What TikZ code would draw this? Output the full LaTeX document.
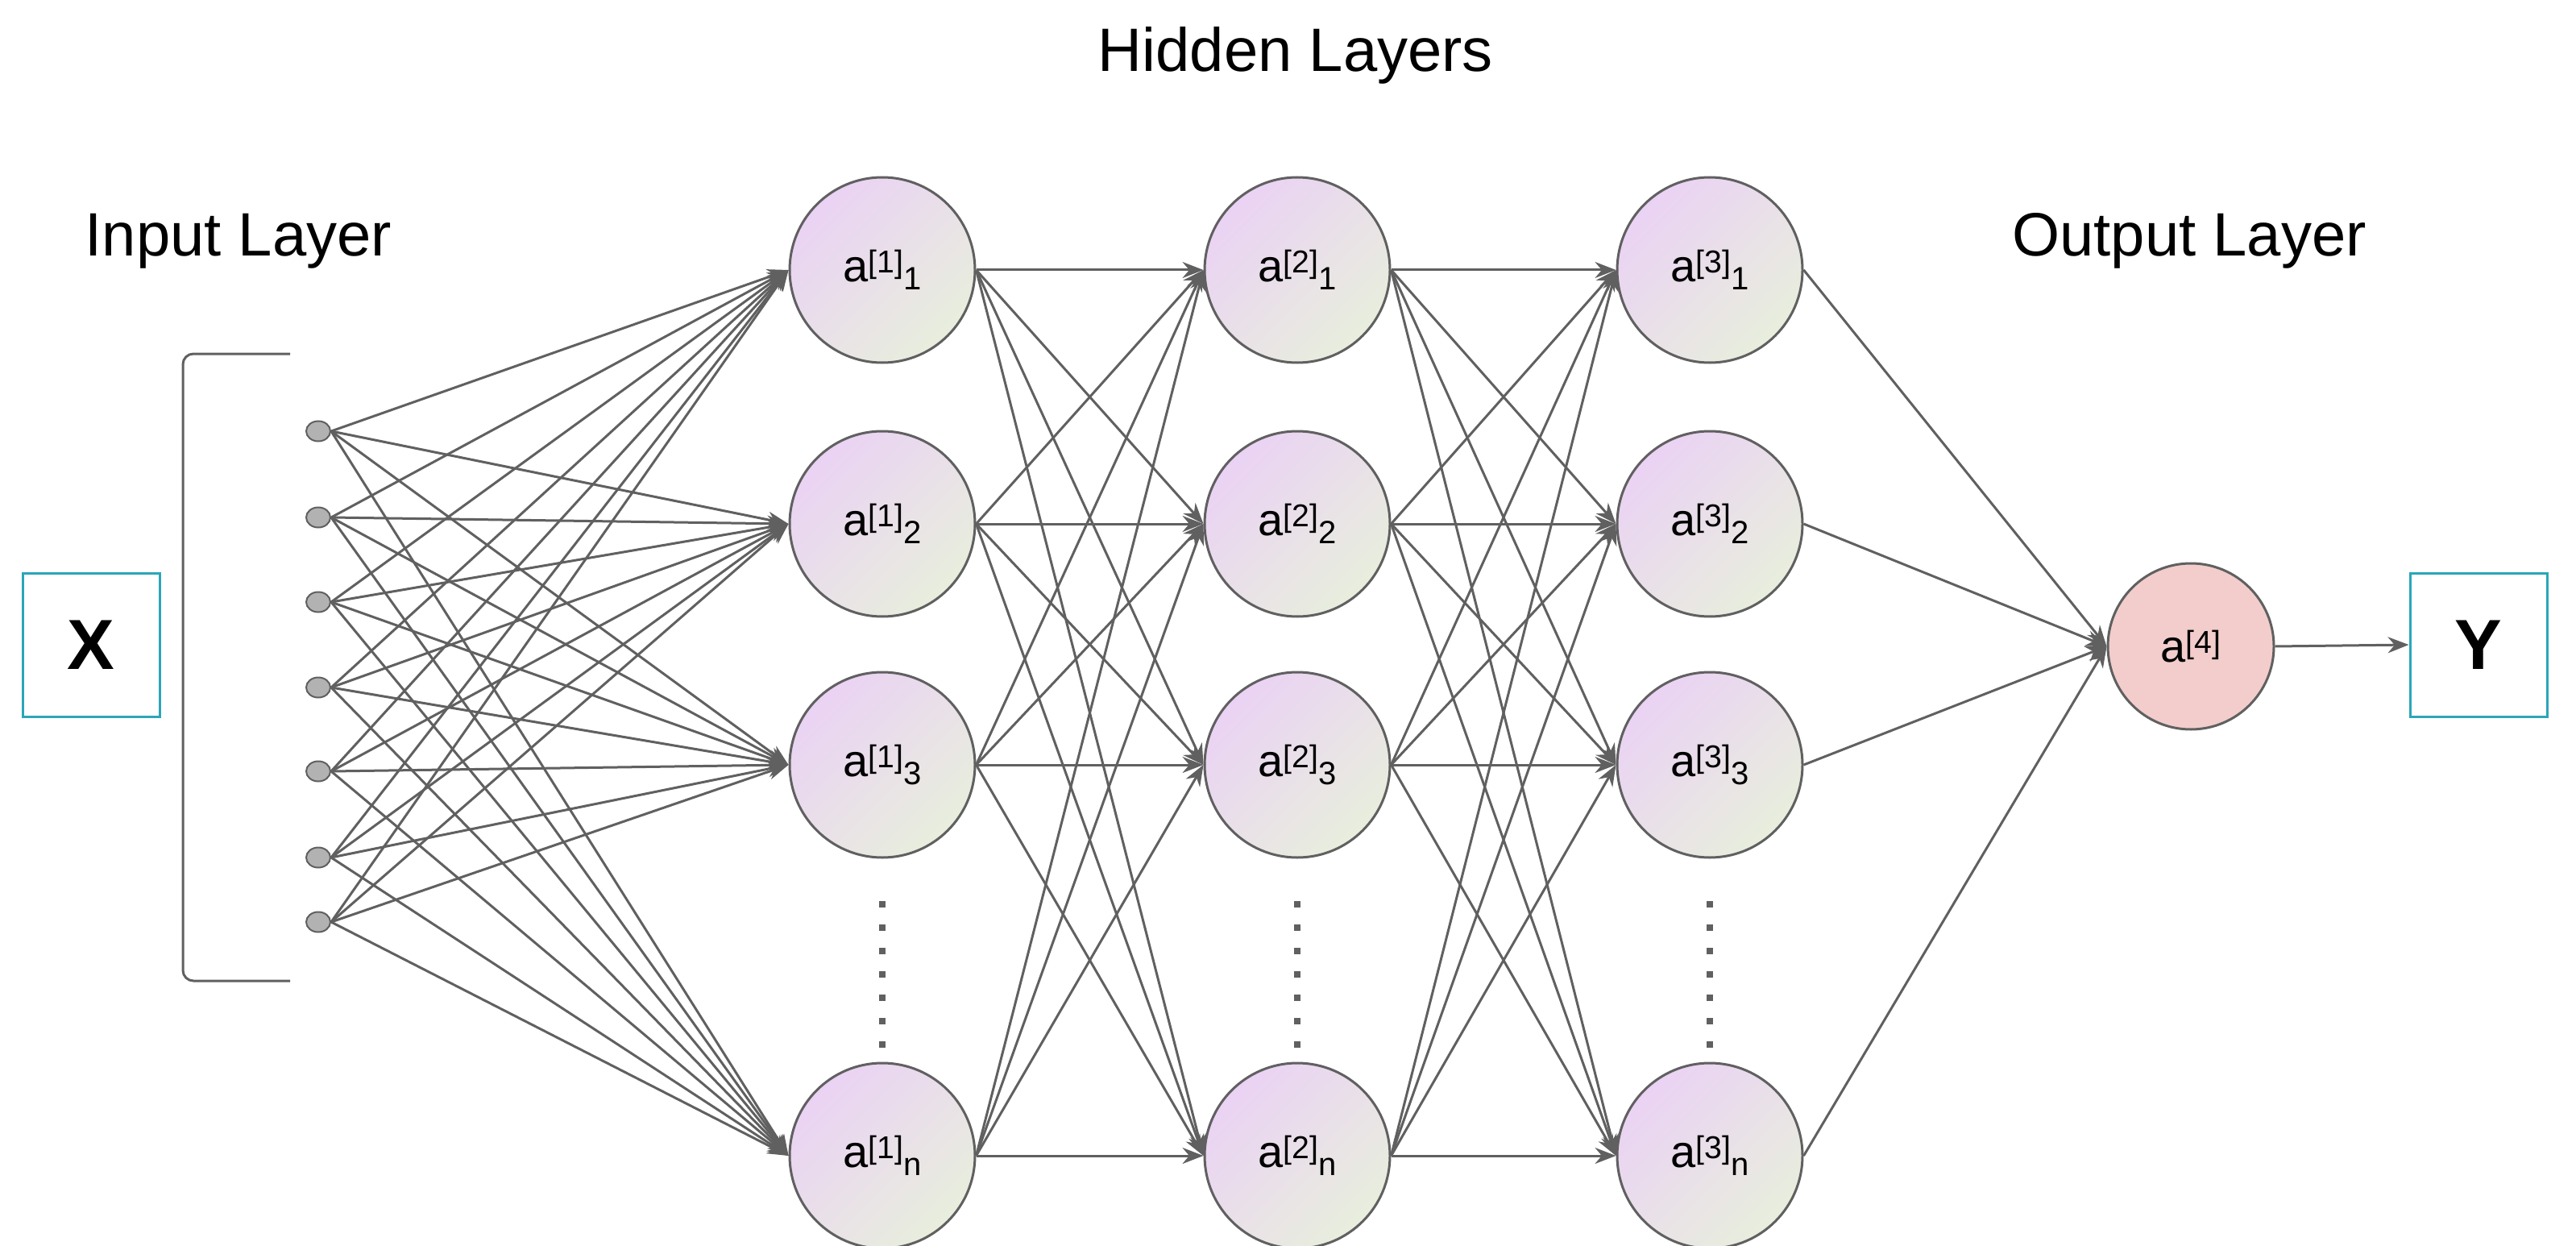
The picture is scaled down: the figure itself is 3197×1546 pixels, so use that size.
\documentclass[tikz,border=0pt]{standalone}
\usepackage{fontspec}
\setmainfont{Liberation Sans}
\usetikzlibrary{arrows.meta,shapes.geometric}
\definecolor{ln}{HTML}{606060}
\definecolor{purp}{HTML}{EAD2F4}
\definecolor{grn}{HTML}{E8EEDD}
\definecolor{outc}{HTML}{F2CDCC}
\definecolor{teal}{HTML}{2BA6B8}
\newcommand{\lab}[2]{a\textsuperscript{[#1]}\kern-1pt\raisebox{-10pt}{\fontsize{40}{48}\selectfont #2}}
\begin{document}
\begin{tikzpicture}[x=1pt,y=-1pt,
  neuron/.style={circle,draw=ln,line width=3pt,minimum size=230pt,inner sep=0pt,
    left color=purp,right color=grn,shading angle=45,font=\fontsize{56}{66}\selectfont},
  outn/.style={circle,draw=ln,line width=3pt,minimum size=206pt,inner sep=0pt,fill=outc,font=\fontsize{56}{66}\selectfont},
  inp/.style={ellipse,draw=ln,line width=2pt,fill=black!30,minimum width=30pt,minimum height=25pt,inner sep=0pt},
  conn/.style={draw=ln,line width=3pt,-{Stealth[length=26pt,width=20pt]}},
  box/.style={draw=teal,line width=3pt,minimum width=170pt,minimum height=178pt,font=\fontsize{88}{100}\selectfont\bfseries},
  ttl/.style={font=\fontsize{76}{90}\selectfont},
  vdot/.style={fill=ln,minimum size=8pt,inner sep=0pt,rectangle}]
\useasboundingbox (0,0) rectangle (3197,1546);
\node[ttl] (th) at (1608,69) {Hidden Layers};
\node[ttl] (ti) at (296,299) {Input Layer};
\node[ttl] (to) at (2717,299) {Output Layer};
\node[box] (X) at (113,800) {X};
\node[box] (Y) at (3076,800) {Y};
\draw[ln,line width=3pt] (360,439) -- (240,439) to[out=180,in=90] (227,452) -- (227,1204) to[out=-90,in=180] (240,1217) -- (360,1217);
\foreach \i/\y in {1/535,2/642,3/747,4/853,5/957,6/1064,7/1144}
  \node[inp] (i\i) at (395,\y) {};
\foreach \L/\x in {1/1095,2/1610,3/2122}{
  \node[neuron] (h\L1) at (\x,335) {\lab{\L}{1}};
  \node[neuron] (h\L2) at (\x,650) {\lab{\L}{2}};
  \node[neuron] (h\L3) at (\x,949) {\lab{\L}{3}};
  \node[neuron] (h\L4) at (\x,1434) {\lab{\L}{n}};
  \foreach \d in {0,...,6}
    \node[vdot] (d\L\d) at (\x,1122+\d*29) {};
}
\node[outn] (o) at (2719,802) {a\textsuperscript{[4]}};
\foreach \i in {1,...,7}
  \foreach \j in {1,...,4}
    \draw[conn] (i\i.east) -- (h1\j.west);
\foreach \a/\b in {1/2,2/3}
  \foreach \i in {1,...,4}
    \foreach \j in {1,...,4}
      \draw[conn] (h\a\i.east) -- (h\b\j.west);
\foreach \i in {1,...,4}
  \draw[conn] (h3\i.east) -- (o.west);
\draw[conn] (o.east) -- (Y.west);
\end{tikzpicture}
\end{document}
